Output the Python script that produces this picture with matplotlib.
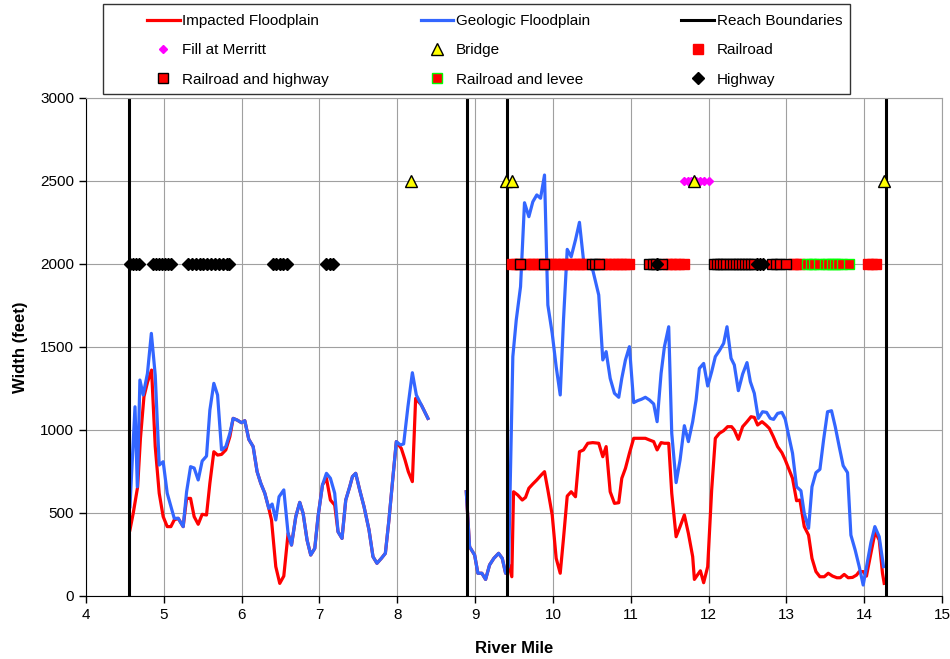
import numpy as np
import matplotlib.pyplot as plt
from matplotlib.patches import Rectangle

plt.rcParams['font.family'] = ['Liberation Sans', 'DejaVu Sans']

# impacted floodplain (red), upstream and downstream pieces
red_a_mile = [4.565, 4.607, 4.664, 4.700, 4.745, 4.792, 4.843, 4.890, 4.941, 4.992,
              5.044, 5.091, 5.134, 5.185, 5.249, 5.293, 5.344, 5.390, 5.442, 5.493,
              5.549, 5.592, 5.643, 5.691, 5.742, 5.797, 5.849, 5.891, 5.942, 5.999,
              6.041, 6.092, 6.148, 6.199, 6.246, 6.298, 6.349, 6.384, 6.439, 6.490,
              6.542, 6.597, 6.641, 6.696, 6.747, 6.790, 6.841, 6.888, 6.940, 6.982,
              7.039, 7.090, 7.141, 7.196, 7.239, 7.290, 7.338, 7.389, 7.424, 7.466,
              7.517, 7.573, 7.637, 7.688, 7.739, 7.796, 7.847, 7.893, 7.945, 7.988,
              8.052, 8.100, 8.142, 8.194, 8.236, 8.309, 8.394]
red_a_width = [398, 498, 658, 950, 1201, 1290, 1361, 900, 619, 478,
               418, 418, 458, 468, 418, 588, 588, 478, 432, 492,
               488, 679, 869, 849, 853, 880, 960, 1070, 1060, 1044,
               1056, 944, 900, 749, 679, 619, 528, 458, 177, 76,
               120, 377, 307, 478, 564, 498, 337, 247, 287, 478,
               669, 709, 578, 548, 387, 347, 578, 658, 719, 739,
               639, 538, 398, 237, 197, 227, 257, 458, 719, 930,
               889, 819, 749, 689, 1190, 1151, 1070]

red_b_mile = [8.887, 8.929, 8.994, 9.036, 9.087, 9.135, 9.186, 9.241, 9.302, 9.349,
              9.392, 9.434, 9.472, 9.494, 9.549, 9.606, 9.648, 9.691, 9.742, 9.793,
              9.850, 9.892, 9.935, 9.991, 10.042, 10.094, 10.136, 10.184, 10.235, 10.290,
              10.341, 10.393, 10.448, 10.512, 10.589, 10.641, 10.684, 10.736, 10.791, 10.846,
              10.885, 10.932, 10.983, 11.038, 11.090, 11.137, 11.188, 11.240, 11.295, 11.339,
              11.390, 11.433, 11.488, 11.527, 11.583, 11.634, 11.689, 11.741, 11.796, 11.818,
              11.895, 11.937, 11.989, 12.040, 12.087, 12.139, 12.194, 12.245, 12.296, 12.331,
              12.383, 12.438, 12.494, 12.546, 12.588, 12.630, 12.687, 12.738, 12.781, 12.832,
              12.887, 12.943, 12.986, 13.028, 13.079, 13.131, 13.174, 13.230, 13.285, 13.329,
              13.380, 13.431, 13.487, 13.538, 13.593, 13.649, 13.692, 13.743, 13.794, 13.850,
              13.901, 13.936, 13.987, 14.029, 14.086, 14.141, 14.193, 14.235, 14.257]
red_b_width = [628, 297, 247, 137, 137, 100, 187, 227, 257, 227,
               137, 187, 116, 628, 608, 578, 594, 649, 675, 699,
               729, 749, 639, 488, 227, 137, 347, 602, 628, 598,
               869, 880, 920, 924, 920, 839, 900, 628, 558, 562,
               709, 769, 860, 950, 950, 950, 950, 940, 930, 880,
               924, 920, 920, 619, 357, 418, 488, 377, 237, 100,
               152, 80, 177, 639, 950, 980, 996, 1020, 1020, 1000,
               944, 1020, 1050, 1080, 1076, 1030, 1050, 1030, 1010, 960,
               900, 863, 819, 769, 709, 574, 578, 418, 367, 227,
               147, 116, 116, 137, 120, 110, 110, 130, 110, 112,
               126, 147, 147, 120, 257, 387, 337, 137, 76]

# geologic floodplain (blue)
blue_a_mile = [4.565, 4.630, 4.660, 4.693, 4.735, 4.790, 4.840, 4.890, 4.941, 4.992,
               5.044, 5.134, 5.185, 5.249, 5.293, 5.344, 5.390, 5.442, 5.493, 5.549,
               5.592, 5.643, 5.691, 5.742, 5.797, 5.849, 5.891, 5.942, 5.999, 6.041,
               6.092, 6.148, 6.199, 6.246, 6.298, 6.349, 6.392, 6.439, 6.481, 6.542,
               6.597, 6.641, 6.696, 6.747, 6.790, 6.841, 6.888, 6.940, 6.982, 7.039,
               7.090, 7.141, 7.196, 7.239, 7.290, 7.338, 7.389, 7.424, 7.466, 7.517,
               7.573, 7.637, 7.688, 7.739, 7.796, 7.847, 7.893, 7.945, 7.988, 8.040,
               8.082, 8.137, 8.194, 8.245, 8.309, 8.394]
blue_a_width = [538, 1140, 658, 1301, 1211, 1341, 1582, 1330, 789, 809,
                619, 468, 468, 418, 628, 779, 771, 699, 813, 843,
                1120, 1281, 1211, 880, 900, 980, 1070, 1060, 1044, 1056,
                944, 900, 749, 679, 619, 528, 554, 458, 598, 639,
                377, 307, 478, 564, 498, 337, 247, 287, 478, 669,
                739, 709, 619, 387, 347, 578, 658, 719, 739, 639,
                538, 398, 237, 197, 227, 257, 458, 719, 930, 910,
                916, 1140, 1345, 1211, 1151, 1070]

blue_b_mile = [8.887, 8.929, 8.994, 9.036, 9.087, 9.135, 9.186, 9.241, 9.302, 9.349,
               9.392, 9.430, 9.485, 9.529, 9.584, 9.635, 9.691, 9.742, 9.793, 9.841,
               9.892, 9.935, 9.991, 10.042, 10.094, 10.136, 10.184, 10.235, 10.290, 10.341,
               10.393, 10.448, 10.512, 10.589, 10.641, 10.684, 10.736, 10.791, 10.846, 10.885,
               10.932, 10.983, 11.038, 11.090, 11.137, 11.188, 11.240, 11.295, 11.339, 11.390,
               11.433, 11.488, 11.527, 11.583, 11.634, 11.689, 11.741, 11.796, 11.840, 11.882,
               11.937, 11.989, 12.040, 12.087, 12.139, 12.194, 12.237, 12.289, 12.331, 12.383,
               12.438, 12.494, 12.537, 12.588, 12.639, 12.694, 12.746, 12.793, 12.836, 12.887,
               12.943, 12.986, 13.028, 13.079, 13.131, 13.187, 13.230, 13.285, 13.329, 13.380,
               13.431, 13.478, 13.529, 13.580, 13.628, 13.679, 13.730, 13.786, 13.829, 13.884,
               13.936, 13.987, 14.034, 14.086, 14.137, 14.193, 14.248]
blue_b_width = [628, 297, 247, 137, 137, 100, 187, 227, 257, 227,
                137, 180, 1442, 1663, 1863, 2369, 2285, 2375, 2416, 2396,
                2536, 1753, 1582, 1381, 1211, 1663, 2088, 2044, 2145, 2251,
                2024, 1984, 1964, 1813, 1422, 1472, 1311, 1221, 1197, 1311,
                1422, 1502, 1165, 1177, 1185, 1197, 1181, 1157, 1050, 1341,
                1502, 1622, 980, 683, 819, 1026, 930, 1050, 1181, 1371,
                1401, 1265, 1351, 1442, 1478, 1522, 1622, 1432, 1392, 1237,
                1337, 1406, 1291, 1221, 1070, 1110, 1106, 1070, 1064, 1100,
                1106, 1064, 970, 860, 658, 634, 498, 408, 658, 743,
                763, 940, 1110, 1116, 1020, 900, 785, 743, 367, 277,
                177, 66, 187, 321, 418, 357, 177]

reach_mile = [4.55, 8.89, 9.41, 14.28]

# point features, plotted along two rows
upper_row = 2500
lower_row = 2000
fill_mile = [11.68, 11.73, 11.78, 11.84, 11.89, 11.94, 12.00]
bridge_mile = [8.18, 9.40, 9.47, 11.81, 14.26]
railroad_mile = [9.48, 9.52, 9.57, 9.65, 9.70, 9.75, 9.80, 9.85, 9.93, 9.98,
                 10.03, 10.08, 10.13, 10.18, 10.23, 10.28, 10.33, 10.38, 10.43,
                 10.63, 10.68, 10.73, 10.78, 10.83, 10.88, 10.93, 10.98,
                 11.47, 11.52, 11.57, 11.62, 11.68,
                 13.08, 13.13, 13.18, 14.05, 14.10, 14.15]
rr_highway_mile = [9.58, 9.89, 10.50, 10.54, 10.59, 11.23, 11.28, 11.33, 11.40,
                   12.07, 12.11, 12.15, 12.19, 12.23, 12.27, 12.31, 12.35, 12.39,
                   12.43, 12.47, 12.51, 12.55, 12.59, 12.82, 12.87, 12.92, 12.99]
rr_levee_mile = [13.27, 13.31, 13.35, 13.42, 13.50, 13.54, 13.58, 13.62, 13.66, 13.72, 13.80]
highway_mile = [4.56, 4.60, 4.64, 4.68, 4.86, 4.90, 4.94, 4.98, 5.02, 5.05, 5.09,
                5.31, 5.36, 5.41, 5.46, 5.51, 5.56, 5.61, 5.66, 5.71, 5.76, 5.81, 5.84,
                6.40, 6.44, 6.49, 6.53, 6.58, 7.09, 7.14, 7.18,
                11.34, 12.62, 12.66, 12.70]

red = '#ff0000'
blue = '#3366ff'

fig = plt.figure(figsize=(9.5, 6.59), dpi=100)
ax = fig.add_axes([0.0905, 0.0956, 0.9011, 0.7557])

h_imp, = ax.plot(red_a_mile, red_a_width, color=red, lw=2.3, label='Impacted Floodplain')
ax.plot(red_b_mile, red_b_width, color=red, lw=2.3)
h_geo, = ax.plot(blue_a_mile, blue_a_width, color=blue, lw=2.3, label='Geologic Floodplain')
ax.plot(blue_b_mile, blue_b_width, color=blue, lw=2.3)

for i, m in enumerate(reach_mile):
    h = ax.axvline(m, color='black', lw=2.2)
    if i == 0:
        h_reach = h
h_reach.set_label('Reach Boundaries')

h_fill, = ax.plot(fill_mile, [upper_row] * len(fill_mile), ls='none', marker='D', ms=4.4,
                  color='#ff00ff', label='Fill at Merritt')
h_bridge, = ax.plot(bridge_mile, [upper_row] * len(bridge_mile), ls='none', marker='^', ms=8,
                    mfc='#ffff00', mec='black', mew=1, label='Bridge')
h_rr, = ax.plot(railroad_mile, [lower_row] * len(railroad_mile), ls='none', marker='s', ms=7.2,
                mfc=red, mec=red, label='Railroad')
h_rrh, = ax.plot(rr_highway_mile, [lower_row] * len(rr_highway_mile), ls='none', marker='s', ms=6.8,
                 mfc=red, mec='black', mew=1, label='Railroad and highway')
h_rrl, = ax.plot(rr_levee_mile, [lower_row] * len(rr_levee_mile), ls='none', marker='s', ms=6.8,
                 mfc=red, mec='#00ff00', mew=1, label='Railroad and levee')
h_hwy, = ax.plot(highway_mile, [lower_row] * len(highway_mile), ls='none', marker='D', ms=6,
                 color='black', label='Highway')

ax.set_xlim(4, 15)
ax.set_ylim(0, 3000)
ax.set_xticks(range(4, 16))
ax.set_yticks(range(0, 3001, 500))
ax.grid(True, color='#a0a0a0', lw=0.8)
ax.set_axisbelow(True)
ax.tick_params(direction='out', length=5, width=1, labelsize=11, top=False, right=False)
for s in ['top', 'right']:
    ax.spines[s].set_color('#a0a0a0')
    ax.spines[s].set_linewidth(0.8)
ax.set_xlabel('River Mile', fontsize=12, fontweight='bold', labelpad=14)
ax.set_ylabel('Width (feet)', fontsize=12, fontweight='bold', labelpad=9)

# legend reads row-wise, matplotlib fills column-wise
handles = [h_imp, h_fill, h_rrh, h_geo, h_bridge, h_rrl, h_reach, h_rr, h_hwy]
leg = fig.legend(handles=handles, loc='upper left', bbox_to_anchor=(147 / 950, 1 - 14 / 659),
                 ncol=3, fontsize=11, frameon=False, borderpad=0, borderaxespad=0,
                 handlelength=2.15, handletextpad=0.15, columnspacing=6.0,
                 numpoints=1, labelspacing=1.0)
fig.patches.append(Rectangle((103 / 950, 1 - 94 / 659), 747 / 950, 90 / 659,
                             transform=fig.transFigure, fill=False,
                             edgecolor='#333333', lw=1.0))

fig.savefig('out.png', dpi=100)
